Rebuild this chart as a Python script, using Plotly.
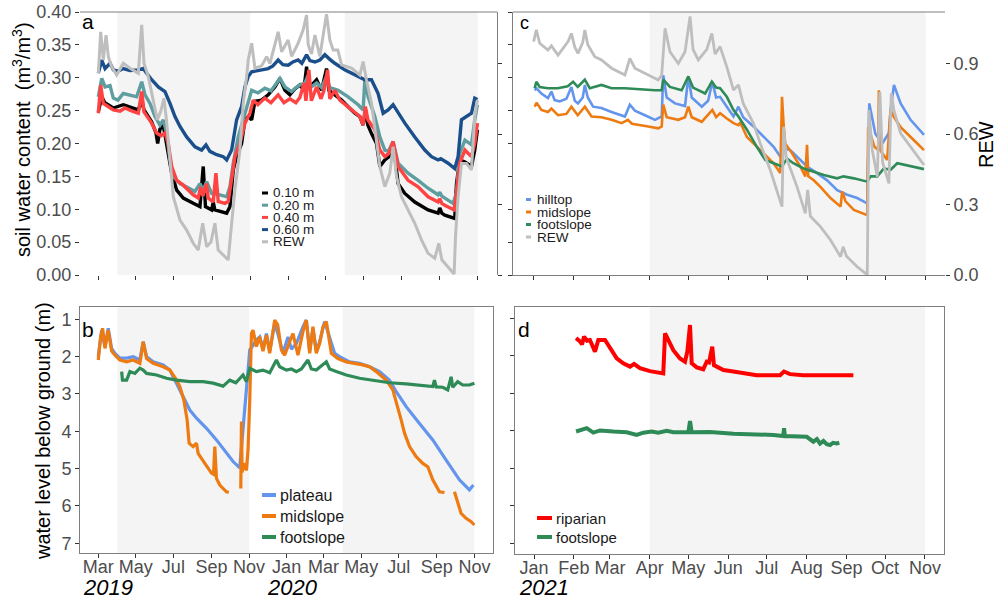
import numpy as np
import pandas as pd
import plotly.graph_objects as go

W, H = 1001, 601
FONT = "Liberation Sans, Arial, sans-serif"

# ---------------------------------------------------------------- data
# Time stamps are stored as days since the start of each record.
START_AB = pd.Timestamp("2019-03-01")   # panels a and b
START_CD = pd.Timestamp("2021-01-01")   # panels c and d

# growing seasons (shaded)
seasons_ab = [("2019-04-01", "2019-11-01"), ("2020-04-01", "2020-11-01")]
seasons_cd = [("2021-04-01", "2021-11-01")]

# --- panel a: soil water content (m3/m3) by depth, REW on right axis
a_days_010 = [0.5, 6, 11, 24.6, 40.7, 51.5, 64.8, 70.3, 74, 86.3, 93.3, 96, 99.7, 105, 109.3,
              118.5, 126.6, 137.2, 153.2, 164, 169.3, 172.9, 182.8, 185.4, 188, 201.5, 207, 212.3,
              217.6, 223, 231, 236.4, 241.7, 247.2, 252.5, 263.2, 273.8, 284.6, 292.7, 300.7, 308.7,
              316.8, 324.8, 331.2, 335.6, 338.5, 340.9, 351.7, 359.7, 367.7, 371.4, 381, 391.9, 402.5,
              413.3, 421.3, 426.6, 430.5, 434.2, 440.1, 448.1, 453.5, 461.5, 468, 474.8, 478.4, 482.9,
              493.7, 509.7, 531.1, 547.2, 549.9, 553.2, 558, 574, 576.8, 582.1, 590.4, 600.9, 606.2, 610.5]
a_swc_010 = [.248, .271, .262, .254, .259, .256, .251, .266, .251, .233, .216, .200, .222, .228, .205,
             .155, .129, .117, .109, .104, .165, .104, .099, .111, .099, .096, .094, .104,
             .160, .180, .200, .236, .241, .236, .264, .266, .274, .286, .299, .281, .274,
             .283, .289, .281, .317, .282, .286, .297, .281, .314, .281, .274, .266, .256,
             .246, .241, .228, .251, .228, .215, .200, .165, .175, .180, .200, .175, .139,
             .124, .111, .099, .094, .102, .094, .091, .086, .139, .175, .172, .165, .190, .221]

a_days_020 = [0.5, 6, 11.3, 19.3, 24.6, 32, 40.7, 51.5, 62.2, 70.3, 75.6, 83.6, 91.7, 99.7, 105,
              110.5, 115.8, 121.1, 131.9, 142.6, 156, 164, 169.3, 174.8, 182.8, 196.2, 207, 212.3,
              217.6, 225.6, 233.6, 239.1, 247.2, 257.3, 268.5, 278.2, 292.7, 300.7, 311.5, 318.4,
              324.8, 332.9, 338.2, 341.7, 351.7, 359.7, 367.7, 373, 386.4, 402.5, 418.6, 426.6,
              429.3, 434.6, 445.4, 453.5, 461.5, 467.1, 474.8, 482.9, 498.9, 515.1, 531.1, 547.2,
              549.9, 553.2, 558, 571.3, 576.8, 582.1, 590.4, 600.9, 606.2, 610.5]
a_swc_020 = [.271, .299, .286, .288, .269, .266, .276, .274, .271, .294, .274, .261, .241, .228, .236,
             .215, .175, .150, .139, .134, .127, .139, .129, .142, .124, .122, .119, .134,
             .170, .210, .236, .256, .281, .277, .284, .280, .299, .286, .279, .285,
             .289, .292, .304, .285, .292, .285, .302, .285, .281, .271, .259, .251,
             .297, .271, .241, .210, .190, .188, .203, .170, .155, .144, .132, .122,
             .126, .120, .117, .109, .125, .185, .205, .198, .236, .259]

a_days_040 = [0.5, 4.3, 8.5, 16.1, 24.6, 35.4, 43.4, 53.1, 64.8, 70.3, 74, 86.3, 94.4, 101.3, 107.7,
              113, 118.5, 126.6, 136.7, 153.2, 161.3, 165.1, 168.8, 174.8, 177.4, 185.4, 189.7, 193.4,
              204.2, 209.5, 215, 220.3, 228.3, 236.4, 244.4, 249.7, 257.3, 268.5, 278.2, 289.9, 299.1,
              308.7, 318.4, 324.8, 331.7, 334.5, 339.3, 343.3, 351.7, 358.6, 363.4, 369.3, 373, 381,
              389.1, 402.5, 413.3, 421.3, 426.6, 430.1, 434.2, 445.4, 453.5, 461.5, 468, 474.8, 482.9,
              498.9, 515.1, 531.1, 547.2, 549.9, 553.2, 558, 573, 576.8, 582.1, 590.4, 600.9, 606.2, 610.5]
a_swc_040 = [.246, .289, .261, .256, .251, .249, .254, .250, .246, .279, .248, .231, .216, .212, .216,
             .200, .165, .144, .137, .122, .117, .134, .120, .139, .117, .111, .155, .112,
             .109, .112, .144, .180, .200, .231, .246, .266, .259, .269, .262, .274, .262,
             .268, .262, .270, .292, .265, .312, .265, .286, .268, .280, .312, .268, .281,
             .266, .256, .248, .241, .228, .256, .236, .221, .190, .180, .185, .203, .165,
             .144, .134, .119, .111, .116, .109, .106, .099, .124, .170, .190, .180, .200, .231]

a_days_060 = [0.5, 6, 11.3, 19.3, 24.6, 32.2, 40.7, 51.5, 64.8, 72.8, 78.3, 86.3, 97, 107.7, 115.8,
              123.8, 131.9, 142.6, 156, 166.7, 173.7, 180, 190.9, 201.5, 207, 215, 223, 231, 236.4,
              241.7, 247.2, 257.3, 273.8, 281.4, 289.9, 297.5, 306, 313.6, 322, 328, 335.6, 340.9,
              349, 357, 365, 373, 381, 397, 413.3, 429.3, 440, 450.7, 458.8, 466.8, 474.8, 480.8,
              493.7, 509.7, 525.8, 536.6, 547.2, 551.5, 563.3, 574, 579.4, 584.8, 592.9, 600.9, 606.2, 610.5]
a_swc_060 = [.307, .327, .314, .322, .312, .310, .314, .311, .312, .314, .307, .297, .286, .279, .261,
             .241, .226, .210, .195, .190, .198, .188, .183, .180, .175, .190, .236, .256, .286,
             .302, .309, .311, .314, .318, .327, .320, .319, .324, .327, .322, .335, .326,
             .324, .327, .335, .328, .322, .312, .304, .297, .297, .276, .246, .251, .259, .250,
             .231, .210, .190, .180, .175, .177, .170, .162, .180, .236, .241, .246, .269, .267]

a_days_rew = [0.5, 4.3, 8.5, 12.9, 16.6, 22, 30, 40.7, 51.5, 64.8, 70.3, 74, 80.9, 88.9, 95.4,
              101.3, 106.1, 110.1, 115.8, 121.1, 131.9, 142.6, 153.2, 161.3, 168.4, 174.8, 181.7,
              188.1, 193.4, 204.2, 209.5, 215, 220.3, 228.3, 233.6, 239.1, 241.7, 247.2, 252.5,
              263.2, 271.3, 276.6, 284.6, 289.9, 295.4, 306, 311.5, 322, 330.1, 335.6, 338.2, 343.6,
              349, 357, 362.3, 367.7, 373, 378.4, 385.9, 391.9, 407.9, 421.3, 426.6, 432, 440.1,
              445.4, 453.5, 461.5, 469.5, 474.8, 480.3, 488.3, 499, 509.7, 520.5, 531.1, 541.9,
              548.3, 553.2, 563.3, 573, 575.2, 579.4, 584.8, 592.9, 600.9, 606.2, 610.5]
a_rew = [.858, 1.035, .915, 1.021, .929, .886, .851, .901, .880, .858, 1.064, .900, .844, .745, .660,
         .700, .752, .660, .503, .333, .234, .191, .135, .106, .220, .120, .140,
         .220, .106, .078, .064, .220, .362, .532, .731, .844, .915, .986, .880,
         .890, .929, .900, .986, 1.035, .950, 1.0, .930, .986, 1.043, 1.106, .980, .940,
         1.021, .930, 1.02, 1.11, 1.0, .957, .957, .894, .880, .851, .908, .830, .731,
         .631, .461, .376, .433, .546, .420, .333, .277, .220, .149, .092, .071,
         .135, .065, .035, .004, .163, .333, .475, .475, .447, .674, .745]

# --- panel b: water level below ground (m)
b_days_plateau = [0, 5.5, 10.9, 16.2, 21.7, 27.1, 35.2, 46.1, 56.8, 67.6, 73, 78.5, 89.2, 105.4,
                  116.3, 127.2, 137.9, 148.7, 159.6, 175.8, 192, 208.3, 219, 229.8, 235.2, 240.7,
                  246.1, 251.4, 256.9, 262.3, 267.6, 273.2, 278.5, 286.6, 292, 300, 308.2, 313.7,
                  321.8, 332.5, 338, 343.4, 348.7, 354.2, 359.6, 367.7, 375.8, 383.9, 392, 408.2,
                  424.4, 440.7, 456.9, 473.1, 484, 500.2, 521.8, 543.4, 565.1, 586.7, 602.9, 609.4]
b_wl_plateau = [2.0, 1.29, 1.73, 1.24, 1.78, 1.91, 2.04, 2.04, 2.0, 2.09, 1.60, 2.0, 2.14, 2.22,
                2.36, 2.71, 3.07, 3.43, 3.65, 3.92, 4.23, 4.59, 4.81, 4.98, 3.88, 2.71,
                1.82, 1.70, 1.55, 1.47, 1.80, 1.38, 1.85, 1.11, 1.40, 1.91, 1.47, 1.80,
                1.65, 1.20, 1.02, 1.85, 1.25, 1.85, 1.60, 1.06, 1.50, 1.91, 2.0, 2.14,
                2.18, 2.27, 2.40, 2.63, 2.94, 3.34, 3.79, 4.23, 4.77, 5.30, 5.57, 5.44]

b_days_mid = [0, 3.9, 7.1, 10.9, 16.2, 21.7, 27.1, 35.2, 46.1, 56.8, 67.6, 73, 78.5, 89.2, 105.4,
              116.3, 127.2, 132.5, 139, 144.4, 147.6, 154.1, 159.6, 162.2, 173.1, 183.9, 187.2,
              189.3, 192, 197.4, 208.3, 212, 222, 231.5, 232.6, 233.6, 236.3, 240.7, 243.3, 246.1,
              248.8, 251.4, 256.9, 262.3, 267.6, 273.2, 278.5, 286.6, 291.5, 297.5, 302.8, 310.9,
              316.3, 324.4, 332.5, 338, 343.4, 348.7, 354.2, 359.6, 365, 370.5, 378.6, 389.3, 402.9,
              429.8, 440.7, 451.6, 467.8, 478.5, 486.6, 492.1, 497.5, 505.6, 516.4, 527.2, 535.3,
              543.4, 554.2, 562.4, 570, 578.6, 583.9, 589.4, 597.5, 605.7, 611]
b_wl_mid = [2.09, 1.47, 1.24, 1.78, 1.29, 1.85, 1.96, 2.09, 2.14, 2.09, 2.18, 1.60, 2.05, 2.18, 2.27,
            2.36, 2.63, 2.80, 3.16, 3.70, 4.32, 4.41, 4.32, 4.59, 4.86, 5.12, 5.15,
            4.41, 5.26, 5.44, 5.62, 5.64, None, 5.53, 3.74, 5.10, 4.86, 5.05, 4.50, 3.16,
            1.38, 1.29, 1.73, 1.47, 1.85, 1.42, 1.91, 1.02, 1.15, 1.82, 1.96, 1.60,
            1.38, 1.96, 1.33, 1.02, 1.91, 1.20, 1.91, 1.65, 1.20, 1.06, 1.91, 2.05, 2.14,
            2.22, 2.27, 2.40, 2.63, 2.89, 3.34, 3.70, 4.05, 4.41, 4.68, 4.86, 4.95,
            5.30, 5.62, 5.64, None, 5.62, 5.93, 6.20, 6.33, 6.42, 6.51]

b_days_foot = [38, 39.3, 46.1, 51.4, 59.5, 67.6, 73, 78.5, 94.7, 110.9, 127.2, 148.7, 170.3, 186.5,
               202.8, 213.6, 223.4, 235.2, 240.7, 246.1, 256.9, 267.6, 278.5, 289.4, 294.7, 305.6,
               313.7, 321.8, 329.9, 340.6, 346.1, 354.2, 370.5, 375.8, 386.7, 402.9, 424.4, 446.1,
               473.1, 500.2, 521.8, 543.4, 546.1, 548.9, 559.6, 567.7, 573.2, 575.8, 583.9, 592,
               602.9, 611]
b_wl_foot = [2.40, 2.63, 2.63, 2.40, 2.45, 2.31, 2.36, 2.45, 2.49, 2.58, 2.63, 2.67, 2.67, 2.71,
             2.79, 2.63, 2.70, 2.49, 2.67, 2.31, 2.40, 2.36, 2.43, 2.09, 2.27, 2.36,
             2.33, 2.40, 2.33, 2.09, 2.33, 2.36, 2.14, 2.33, 2.40, 2.49, 2.58, 2.64,
             2.70, 2.73, 2.76, 2.80, 2.63, 2.81, 2.82, 2.89, 2.54, 2.82, 2.67, 2.76,
             2.76, 2.71]

# --- panel c: soil water content by slope position, REW on right axis
c_days_hill = [0.8, 2.3, 6, 11.1, 13.8, 16.3, 20.2, 25.4, 29.3, 31.9, 34.4, 38.1, 39.7, 42, 46.1,
               52.6, 60.4, 70.8, 74.6, 78.5, 86.3, 94.1, 99.3, 100.5, 103.2, 109.6, 117.4, 120,
               122.6, 130.4, 135.3, 138.6, 141.5, 144.6, 149.8, 155, 158.8, 162.5, 170.5, 178.3,
               186.1, 191.3, 195.1, 199, 204.2, 212, 219.8, 227.6, 235.4, 243.1, 250.9, 258.7,
               260.3, 265, 270.4, 275.5, 276.8, 279.4, 284.6, 292.3, 302.7]
c_swc_hill = [.281, .284, .276, .269, .279, .266, .264, .268, .286, .265, .261, .270, .289, .270, .256,
              .254, .248, .241, .259, .250, .243, .236, .241, .304, .270, .261, .257, .302,
              .270, .256, .265, .294, .270, .271, .256, .241, .256, .240, .226, .210,
              .195, .180, .192, .190, .180, .165, .155, .144, .129, .122, .117, .109,
              .261, .215, .200, .216, .251, .289, .261, .236, .213]

c_days_mid = [0.8, 2.3, 6, 11.1, 13.8, 18.9, 25.4, 29.3, 34.2, 39.7, 44.9, 52.6, 60.4, 68.2, 73.1,
              76.2, 88.9, 96.6, 99.3, 100.5, 103.2, 112.2, 117.4, 120, 122.6, 130.4, 135.3, 138.6,
              141.5, 144.6, 149.8, 155, 158.8, 160.2, 165.4, 170.5, 178.3, 186.1, 191.3, 192.6,
              193.8, 195.1, 200.4, 206.8, 210.7, 212, 213, 217.2, 222.4, 230.2, 238, 239.3, 241.9,
              248.3, 258.7, 259.4, 264.3, 267.2, 267.7, 268.6, 274.2, 276.8, 279.4, 284.6, 294.9, 302.7]
c_swc_mid = [.256, .262, .251, .248, .253, .243, .245, .256, .243, .256, .241, .240, .236, .231, .236,
             .230, .226, .223, .226, .259, .240, .236, .240, .256, .240, .233, .244, .251,
             .240, .246, .238, .231, .228, .232, .210, .200, .185, .170, .155, .271,
             .230, .200, .185, .165, .150, .198, .150, .144, .134, .117, .104, .127, .112,
             .099, .091, .225, .195, .190, .281, .190, .175, .251, .240, .225, .205, .190]

c_days_foot = [0.8, 2.1, 4.7, 11.1, 18.7, 26.4, 30.6, 34.2, 39.7, 43.5, 52.6, 60.4, 70.8, 82.4, 94.1,
               99.3, 100.5, 105.7, 114.8, 120, 123.6, 133, 138.2, 141.5, 144.6, 149.8, 155, 158.8,
               165.4, 173.1, 179.6, 186.1, 192.6, 196.5, 201.4, 209.4, 217.2, 225, 235.4, 240.3,
               248.3, 258.7, 261.4, 266.5, 271.6, 276.8, 282, 287, 292.3, 302.7]
c_swc_foot = [.284, .294, .286, .284, .284, .287, .294, .286, .297, .284, .289, .284, .284, .282, .281,
              .281, .297, .286, .281, .302, .285, .276, .294, .285, .284, .271, .251, .241,
              .221, .195, .175, .170, .165, .177, .170, .162, .157, .152, .147, .150,
              .147, .142, .150, .150, .162, .160, .170, .168, .165, .161]

c_days_rew = [0, 2.1, 4.7, 11.1, 13.8, 18.9, 26.7, 29.3, 31.9, 34.4, 38.1, 39.7, 42, 47.4, 52.6,
              60.4, 70.8, 74.6, 78.5, 88.9, 96.6, 99.3, 101.9, 105.7, 112.2, 117.4, 121.3, 123.6,
              127.7, 134.3, 138.2, 140.7, 144.6, 149.8, 155, 158.8, 162.5, 170.5, 175.7, 183.5,
              188.7, 192.6, 193.8, 195.9, 204.2, 210.7, 212.5, 214.6, 222.4, 230.2, 238, 240,
              242.6, 250.9, 257.4, 258.7, 260, 262.6, 266.5, 268.5, 270.6, 275.5, 277.3, 279.4,
              284.6, 292.3, 302.7]
c_rew = [.993, 1.043, .986, .957, .975, .936, .993, 1.028, .970, .943, .990, 1.043, .980, .929, .915,
         .880, .851, .922, .880, .851, .830, .850, 1.050, .950, .900, .950, 1.100, .960,
         .915, .960, 1.028, .940, .972, .886, .787, .809, .730, .645, .560, .447,
         .362, .291, .631, .500, .376, .262, .362, .250, .206, .149, .078, .120,
         .080, .035, .007, 0.0, .702, .532, .418, .780, .480, .390, .773, .700,
         .603, .546, .468]

# --- panel d: water level below ground (m), 2021
d_days_rip = [32.7, 35.8, 37.3, 38.9, 41.2, 43.5, 47.4, 50, 55.2, 59.1, 64.3, 69.4, 74.6, 77.8, 82.4,
              90.2, 96.6, 100.5, 101.9, 104.4, 108.3, 113.5, 117.4, 119.2, 121.3, 122.6, 126.5,
              131.6, 134.3, 136.1, 138.6, 139.9, 147.2, 155, 165.4, 173.1, 191.3, 194.4, 199,
              209.4, 248.3]
d_wl_rip = [1.53, 1.62, 1.70, 1.49, 1.60, 1.58, 1.89, 1.58, 1.58, 1.80, 2.07, 2.20, 2.29, 2.22, 2.33,
            2.41, 2.45, 2.47, 1.40, 1.58, 1.85, 2.07, 2.16, 1.89, 1.18, 2.20, 2.31,
            2.36, 2.16, 2.18, 1.76, 2.25, 2.38, 2.42, 2.49, 2.52, 2.52, 2.42, 2.49,
            2.52, 2.52]

d_days_foot = [32.7, 37.1, 41, 46.1, 51.3, 61.7, 72.1, 79.8, 85, 91.5, 96.6, 103.2, 108.3, 120,
               121.3, 122.6, 129.1, 136.8, 155, 175.7, 186.1, 193.8, 194.4, 195.1, 206.8, 212,
               217.2, 220, 222.4, 225, 227.6, 230.2, 232.5, 235.4, 237.4]
d_wl_foot = [4.02, 3.96, 3.93, 4.05, 3.99, 4.02, 4.04, 4.11, 4.05, 4.02, 4.05, 4.00, 4.04, 4.04,
             3.74, 4.04, 4.04, 4.03, 4.08, 4.09, 4.11, 4.14, 3.93, 4.14, 4.14, 4.16,
             4.29, 4.22, 4.34, 4.27, 4.36, 4.38, 4.32, 4.34, 4.32]

# ---------------------------------------------------------------- styling
COL = {
    "0.10 m": "#000000", "0.20 m": "#5F9EA0", "0.40 m": "#FF4343", "0.60 m": "#1B4F8C",
    "REW": "#BEBEBE", "hilltop": "#6495ED", "plateau": "#6495ED", "midslope": "#EE7A12",
    "footslope": "#2E8B57", "riparian": "#FF0000",
}
SHADE = "#F4F4F4"
FRAME = "#7F7F7F"
TICKC = "#333333"
LABC = "#4D4D4D"


def fx(px):
    return px / W


def fy(py):
    return 1 - py / H


def when(start, days):
    return start + pd.to_timedelta(np.asarray(days, dtype=float), unit="D")


fig = go.Figure()


def add_line(days, vals, start, name, xa, ya, width):
    fig.add_trace(go.Scatter(
        x=when(start, days), y=vals, mode="lines", name=name, showlegend=False,
        line=dict(color=COL[name], width=width), connectgaps=False,
        xaxis=xa, yaxis=ya, hoverinfo="skip"))


# panel a
add_line(a_days_010, a_swc_010, START_AB, "0.10 m", "x", "y", 3.4)
add_line(a_days_020, a_swc_020, START_AB, "0.20 m", "x", "y", 3.4)
add_line(a_days_040, a_swc_040, START_AB, "0.40 m", "x", "y", 3.4)
add_line(a_days_060, a_swc_060, START_AB, "0.60 m", "x", "y", 3.4)
add_line(a_days_rew, a_rew, START_AB, "REW", "x", "y2", 3.0)
# panel c
add_line(c_days_hill, c_swc_hill, START_CD, "hilltop", "x2", "y3", 2.6)
add_line(c_days_mid, c_swc_mid, START_CD, "midslope", "x2", "y3", 2.6)
add_line(c_days_foot, c_swc_foot, START_CD, "footslope", "x2", "y3", 2.6)
add_line(c_days_rew, c_rew, START_CD, "REW", "x2", "y4", 2.8)
# panel b
add_line(b_days_plateau, b_wl_plateau, START_AB, "plateau", "x3", "y5", 3.2)
add_line(b_days_mid, b_wl_mid, START_AB, "midslope", "x3", "y5", 3.2)
add_line(b_days_foot, b_wl_foot, START_AB, "footslope", "x3", "y5", 3.2)
# panel d
add_line(d_days_rip, d_wl_rip, START_CD, "riparian", "x4", "y6", 4.0)
add_line(d_days_foot, d_wl_foot, START_CD, "footslope", "x4", "y6", 4.0)

# ---------------------------------------------------------------- axes
tick = dict(ticks="outside", ticklen=4, tickwidth=1, tickcolor=TICKC, showgrid=False,
            zeroline=False, automargin=False,
            tickfont=dict(family=FONT, size=18, color=LABC))
REW_MAX = 263 / 235

fig.update_layout(
    xaxis=dict(domain=[fx(80), fx(497)], anchor="y", type="date",
               range=["2019-01-31", "2020-12-02"], tick0="2019-03-01", dtick="M2",
               showticklabels=False, showline=False, **tick),
    yaxis=dict(domain=[fy(275), fy(12)], anchor="x", range=[0, 0.40], dtick=0.05,
               tickformat=".2f", showline=False, **tick),
    yaxis2=dict(overlaying="y", side="right", anchor="x", range=[0, REW_MAX],
                tickvals=[0, 0.3, 0.6, 0.9], showticklabels=False, showline=True,
                linecolor=FRAME, linewidth=1, **tick),
    xaxis2=dict(domain=[fx(513), fx(945)], anchor="y3", type="date",
                range=["2020-12-16", "2021-11-16"], tick0="2021-01-01", dtick="M1",
                showticklabels=False, showline=True, linecolor=FRAME, linewidth=1, **tick),
    yaxis3=dict(domain=[fy(275), fy(12)], anchor="x2", range=[0, 0.40], dtick=0.05,
                showticklabels=False, showline=True, linecolor=FRAME, linewidth=1, **tick),
    yaxis4=dict(overlaying="y3", side="right", anchor="x2", range=[0, REW_MAX],
                tickvals=[0, 0.3, 0.6, 0.9], ticktext=["0.0", "0.3", "0.6", "0.9"],
                showline=False, **tick),
    xaxis3=dict(domain=[fx(80), fx(493)], anchor="y5", type="date",
                range=["2019-01-30 08:00", "2020-12-01 05:00"], tick0="2019-03-01",
                dtick="M2", tickformat="%b", showline=True, mirror=True, linecolor=FRAME,
                linewidth=1, ticklabelstandoff=-7, **tick),
    yaxis5=dict(domain=[fy(553), fy(307)], anchor="x3", range=[7.26, 0.67],
                tickvals=[1, 2, 3, 4, 5, 6, 7], showline=True, mirror=True,
                linecolor=FRAME, linewidth=1, **tick),
    xaxis4=dict(domain=[fx(515), fx(944)], anchor="y6", type="date",
                range=["2020-12-17 05:00", "2021-11-15 19:00"], tick0="2021-01-01",
                dtick="M1", tickformat="%b", showline=True, mirror=True, linecolor=FRAME,
                linewidth=1, ticklabelstandoff=-7, **tick),
    yaxis6=dict(domain=[fy(554), fy(307)], anchor="x4", range=[7.285, 0.70],
                tickvals=[1, 2, 3, 4, 5, 6, 7], showticklabels=False, showline=True,
                mirror=True, linecolor=FRAME, linewidth=1, **tick),
)

# ---------------------------------------------------------------- shapes
shapes = []
for xa, ya in (("x", "y"), ("x3", "y5")):
    for s0, s1 in seasons_ab:
        shapes.append(dict(type="rect", xref=xa, yref=f"{ya} domain", x0=s0, x1=s1,
                           y0=0, y1=1, fillcolor=SHADE, line=dict(width=0), layer="below"))
for xa, ya in (("x2", "y3"), ("x4", "y6")):
    for s0, s1 in seasons_cd:
        shapes.append(dict(type="rect", xref=xa, yref=f"{ya} domain", x0=s0, x1=s1,
                           y0=0, y1=1, fillcolor=SHADE, line=dict(width=0), layer="below"))
# top frame lines of panels a and c
for xa, ya in (("x", "y"), ("x2", "y3")):
    shapes.append(dict(type="line", xref=f"{xa} domain", yref=f"{ya} domain",
                       x0=0, x1=1, y0=1, y1=1, line=dict(color=FRAME, width=1)))

annotations = []


def legend_block(items, x_sym, sym_w, sym_h, x_txt, y_rows, size):
    for (label, key), yy in zip(items, y_rows):
        shapes.append(dict(type="rect", xref="paper", yref="paper",
                           x0=fx(x_sym), x1=fx(x_sym + sym_w),
                           y0=fy(yy + sym_h / 2), y1=fy(yy - sym_h / 2),
                           fillcolor=COL[key], line=dict(width=0)))
        annotations.append(dict(x=fx(x_txt), y=fy(yy), xref="paper", yref="paper",
                                text=label, showarrow=False, xanchor="left", yanchor="middle",
                                borderpad=0,
                                font=dict(family=FONT, size=size, color="#1A1A1A")))


legend_block([("0.10 m", "0.10 m"), ("0.20 m", "0.20 m"), ("0.40 m", "0.40 m"),
              ("0.60 m", "0.60 m"), ("REW", "REW")],
             262, 6, 3, 272, [193, 205.2, 217.4, 229.6, 241.8], 13.5)
legend_block([("hilltop", "hilltop"), ("midslope", "midslope"), ("footslope", "footslope"),
              ("REW", "REW")],
             526, 5, 3, 536, [199.5, 212, 224.5, 237], 13.5)
legend_block([("plateau", "plateau"), ("midslope", "midslope"), ("footslope", "footslope")],
             262, 14, 4, 279, [495, 516, 537], 16)
legend_block([("riparian", "riparian"), ("footslope", "footslope")],
             537, 15, 4, 555, [518, 537], 15)

# panel letters
for letter, px, py, sz in (("a", 88, 22, 21), ("b", 88, 329, 21), ("c", 524, 23, 18),
                           ("d", 524, 329, 21)):
    annotations.append(dict(x=fx(px), y=fy(py), xref="paper", yref="paper", text=letter,
                            showarrow=False, xanchor="center", yanchor="middle",
                            font=dict(family=FONT, size=sz, color="black")))

# axis titles
annotations += [
    dict(x=fx(21), y=fy(140), xref="paper", yref="paper", textangle=-90, showarrow=False,
         text="soil water content  (m<sup>3</sup>/m<sup>3</sup>)", xanchor="center",
         yanchor="middle", font=dict(family=FONT, size=20, color="black")),
    dict(x=fx(43), y=fy(431), xref="paper", yref="paper", textangle=-90, showarrow=False,
         text="water level below ground (m)", xanchor="center", yanchor="middle",
         font=dict(family=FONT, size=20, color="black")),
    dict(x=fx(986), y=fy(145), xref="paper", yref="paper", textangle=-90, showarrow=False,
         text="REW", xanchor="center", yanchor="middle",
         font=dict(family=FONT, size=20, color="black")),
]
# year labels under the month ticks
for yr, px in (("2019", 108), ("2020", 292), ("2021", 544)):
    annotations.append(dict(x=fx(px), y=0, xref="paper", yref="paper",
                            text=f"<i>{yr}</i>", showarrow=False, xanchor="center",
                            yanchor="bottom", borderpad=0,
                            font=dict(family=FONT, size=22, color="black")))

fig.update_layout(
    width=W, height=H, margin=dict(l=0, r=0, t=0, b=0, autoexpand=False),
    paper_bgcolor="white", plot_bgcolor="white",
    font=dict(family=FONT), showlegend=False,
    shapes=shapes, annotations=annotations,
)

fig.write_html("out.html")
